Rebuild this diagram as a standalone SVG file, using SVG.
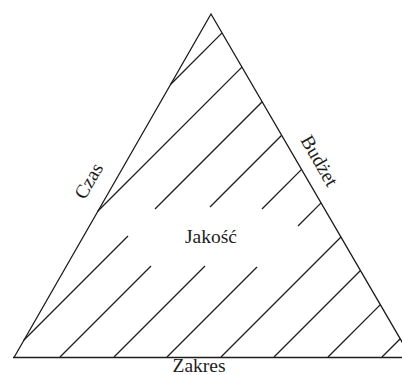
<svg xmlns="http://www.w3.org/2000/svg" width="402" height="375" viewBox="0 0 402 375">
<style>
.ln{stroke:#1c1c1c;stroke-width:1.3;fill:none;stroke-linecap:butt}
.t{font-family:"Liberation Serif","Times New Roman",serif;font-size:19.5px;fill:#1c1c1c}
</style>
<rect width="402" height="375" fill="#ffffff"/>
<g id="triangle">
<path class="ln" d="M14,357.5 L211,14 L412,359"/>
<line class="ln" x1="13" y1="357.5" x2="402" y2="357.5"/>
</g>
<g id="hatching">
<line class="ln" x1="170.5" y1="84.5" x2="222.1" y2="32.9"/>
<line class="ln" x1="97.7" y1="211.3" x2="241.9" y2="67.1"/>
<line class="ln" x1="23.5" y1="340.5" x2="128" y2="236"/>
<line class="ln" x1="155" y1="209" x2="262.2" y2="101.8"/>
<line class="ln" x1="60" y1="357" x2="151" y2="266"/>
<line class="ln" x1="210" y1="207" x2="281.7" y2="135.3"/>
<line class="ln" x1="114" y1="357" x2="205" y2="266"/>
<line class="ln" x1="262" y1="209" x2="301.6" y2="169.4"/>
<line class="ln" x1="167" y1="357" x2="257" y2="267"/>
<line class="ln" x1="298" y1="226" x2="321.1" y2="202.9"/>
<line class="ln" x1="221" y1="357" x2="341" y2="237"/>
<line class="ln" x1="274" y1="357" x2="360.5" y2="270.5"/>
<line class="ln" x1="328" y1="357" x2="380.4" y2="304.6"/>
<line class="ln" x1="382" y1="357" x2="400.3" y2="338.7"/>
</g>
<g id="labels">
<text class="t" transform="translate(89,181) rotate(-60)" y="6" text-anchor="middle">Czas</text>
<text class="t" transform="translate(319,161) rotate(60)" y="6" text-anchor="middle">Budżet</text>
<text class="t" x="211" y="242.5" text-anchor="middle">Jakość</text>
<text class="t" x="199" y="372" text-anchor="middle">Zakres</text>
</g>
</svg>
